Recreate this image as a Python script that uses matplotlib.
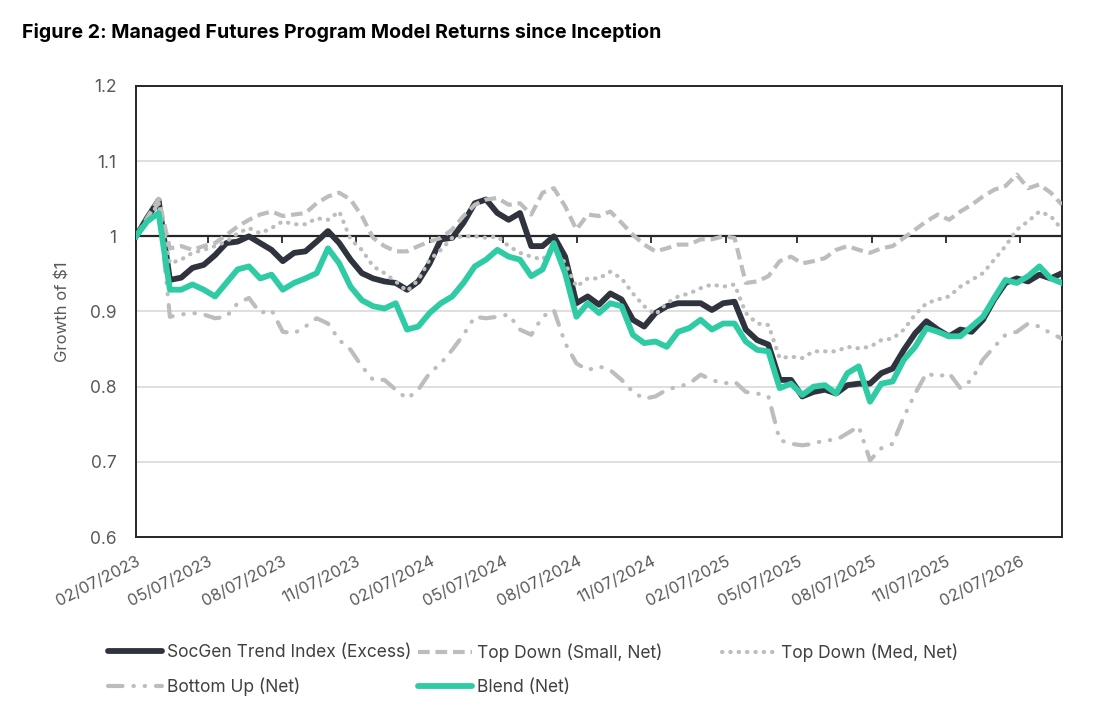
import numpy as np
import pandas as pd
import matplotlib
matplotlib.use("Agg")
import matplotlib.pyplot as plt
import matplotlib.dates as mdates
from matplotlib.lines import Line2D

plt.rcParams['font.family'] = ['Inter', 'DejaVu Sans']

# fortnightly readings of the growth of $1
dates = pd.date_range("2023-02-07", periods=83, freq="14D")

socgen = [1.000, 1.025, 1.048, 0.942, 0.945, 0.958, 0.962, 0.975, 0.991, 0.993,
          1.000, 0.991, 0.982, 0.967, 0.978, 0.980, 0.993, 1.007, 0.991, 0.969,
          0.951, 0.944, 0.940, 0.938, 0.929, 0.940, 0.964, 0.996, 0.998, 1.018,
          1.044, 1.049, 1.031, 1.022, 1.031, 0.987, 0.987, 1.000, 0.973, 0.911,
          0.920, 0.909, 0.924, 0.916, 0.889, 0.880, 0.898, 0.907, 0.911, 0.911,
          0.911, 0.902, 0.911, 0.913, 0.876, 0.862, 0.856, 0.809, 0.809, 0.787,
          0.793, 0.796, 0.791, 0.802, 0.804, 0.804, 0.818, 0.824, 0.849, 0.871,
          0.887, 0.876, 0.867, 0.876, 0.873, 0.889, 0.916, 0.938, 0.944, 0.940,
          0.949, 0.944, 0.951]

top_small = [1.000, 1.025, 1.050, 0.984, 0.987, 0.982, 0.987, 0.991, 1.002, 1.013,
             1.022, 1.029, 1.033, 1.027, 1.029, 1.031, 1.044, 1.053, 1.058, 1.049,
             1.027, 0.998, 0.987, 0.980, 0.980, 0.987, 0.993, 0.998, 1.009, 1.027,
             1.042, 1.049, 1.051, 1.042, 1.044, 1.029, 1.058, 1.064, 1.040, 1.009,
             1.029, 1.027, 1.033, 1.018, 1.002, 0.989, 0.980, 0.984, 0.989, 0.989,
             0.996, 0.996, 1.000, 0.998, 0.938, 0.940, 0.947, 0.967, 0.973, 0.964,
             0.967, 0.971, 0.982, 0.987, 0.982, 0.978, 0.984, 0.987, 0.998, 1.009,
             1.020, 1.029, 1.022, 1.033, 1.042, 1.053, 1.062, 1.067, 1.082, 1.064,
             1.069, 1.058, 1.042]

top_med = [1.000, 1.020, 1.045, 0.964, 0.969, 0.978, 0.982, 0.987, 0.993, 1.004,
           1.011, 1.004, 1.011, 1.020, 1.016, 1.016, 1.024, 1.022, 1.033, 0.996,
           0.982, 0.960, 0.951, 0.940, 0.927, 0.942, 0.969, 0.982, 0.998, 1.000,
           1.000, 0.998, 1.000, 0.987, 0.978, 0.973, 0.969, 0.987, 0.964, 0.933,
           0.944, 0.944, 0.953, 0.944, 0.924, 0.907, 0.896, 0.911, 0.920, 0.924,
           0.931, 0.936, 0.933, 0.936, 0.898, 0.884, 0.882, 0.838, 0.840, 0.838,
           0.847, 0.847, 0.847, 0.853, 0.851, 0.853, 0.862, 0.864, 0.876, 0.896,
           0.911, 0.916, 0.920, 0.933, 0.942, 0.951, 0.969, 0.987, 1.009, 1.020,
           1.033, 1.027, 1.009]

bottom_up = [1.000, 1.020, 1.045, 0.893, 0.896, 0.898, 0.896, 0.891, 0.893, 0.911,
             0.918, 0.898, 0.902, 0.873, 0.871, 0.880, 0.891, 0.884, 0.862, 0.849,
             0.827, 0.809, 0.809, 0.796, 0.784, 0.796, 0.818, 0.831, 0.849, 0.869,
             0.893, 0.891, 0.893, 0.896, 0.876, 0.869, 0.893, 0.902, 0.858, 0.831,
             0.822, 0.827, 0.822, 0.809, 0.793, 0.784, 0.787, 0.796, 0.800, 0.804,
             0.816, 0.809, 0.804, 0.807, 0.793, 0.791, 0.787, 0.729, 0.724, 0.722,
             0.724, 0.729, 0.729, 0.738, 0.747, 0.702, 0.718, 0.724, 0.760, 0.791,
             0.818, 0.813, 0.818, 0.798, 0.809, 0.836, 0.853, 0.869, 0.873, 0.884,
             0.880, 0.871, 0.864]

blend = [1.000, 1.020, 1.031, 0.929, 0.929, 0.936, 0.929, 0.920, 0.938, 0.956,
         0.960, 0.944, 0.949, 0.929, 0.938, 0.944, 0.951, 0.984, 0.964, 0.933,
         0.915, 0.907, 0.904, 0.911, 0.876, 0.880, 0.898, 0.911, 0.920, 0.938,
         0.960, 0.969, 0.982, 0.973, 0.969, 0.947, 0.956, 0.991, 0.951, 0.893,
         0.911, 0.898, 0.911, 0.907, 0.869, 0.858, 0.860, 0.853, 0.873, 0.878,
         0.889, 0.876, 0.884, 0.884, 0.860, 0.849, 0.847, 0.798, 0.804, 0.789,
         0.800, 0.802, 0.791, 0.818, 0.827, 0.780, 0.804, 0.807, 0.836, 0.853,
         0.878, 0.873, 0.867, 0.867, 0.880, 0.893, 0.918, 0.942, 0.938, 0.947,
         0.960, 0.944, 0.938]

tick_dates = pd.date_range("2023-02-07", "2026-02-07", freq=pd.DateOffset(months=3))
y_ticks = [0.6, 0.7, 0.8, 0.9, 1.0, 1.1, 1.2]
y_labels = ["0.6", "0.7", "0.8", "0.9", "1", "1.1", "1.2"]

dark = "#2e333d"
teal = "#2ecba5"
grey = "#bdbdbd"
label_grey = "#595959"
axis_col = "#262626"

x = mdates.date2num(dates)
xt = mdates.date2num(tick_dates)

fig = plt.figure(figsize=(11.1, 7.26), dpi=100)
ax = fig.add_axes([136/1110, 1-537/726, 926/1110, 451/726])

small_style = dict(color=grey, lw=3.0, dashes=(2.8, 1.4))
med_style = dict(color=grey, lw=3.0, dashes=(0.1, 1.9), dash_capstyle='round')
bottom_style = dict(color=grey, lw=3.0, dashes=(3.5, 2.6, 0.1, 2.6, 0.1, 2.6),
                    dash_capstyle='round')

ax.axhline(1.0, color=axis_col, lw=1.6, zorder=2)
ax.plot(x, socgen, color=dark, lw=4.2, solid_joinstyle='round', zorder=3)
ax.plot(x, top_small, zorder=4, **small_style)
ax.plot(x, top_med, zorder=4, **med_style)
ax.plot(x, bottom_up, zorder=4, **bottom_style)
ax.plot(x, blend, color=teal, lw=4.2, solid_joinstyle='round', zorder=5)

ax.set_xlim(x[0], x[-1])
ax.set_ylim(0.6, 1.2)
ax.set_yticks(y_ticks)
ax.set_yticklabels(y_labels)
ax.yaxis.grid(True, color="#d9d9d9", lw=1.2)
ax.set_axisbelow(True)
ax.tick_params(axis='y', length=0, pad=14, labelsize=12.5, labelcolor=label_grey)
ax.set_ylabel("Growth of $1", fontsize=12, color=label_grey, labelpad=14)

ax.set_xticks(xt)
ax.xaxis.set_major_formatter(mdates.DateFormatter("%m/%d/%Y"))
ax.tick_params(axis='x', length=0, pad=12, labelsize=11.8, labelcolor=label_grey,
               labelrotation=27)
for lab in ax.get_xticklabels():
    lab.set_ha('right')
    lab.set_va('top')
    lab.set_rotation_mode('anchor')

for s in ax.spines.values():
    s.set_color(axis_col)
    s.set_linewidth(1.4)

# tick marks of the category axis crossing at 1
sec = ax.secondary_xaxis((1.0 - 0.6) / 0.6)
sec.set_alignment('bottom')
sec.set_xticks(xt)
sec.xaxis.set_major_formatter(plt.NullFormatter())
sec.tick_params(axis='x', direction='out', length=5, width=1.3, color=axis_col)
sec.spines['bottom'].set_visible(False)

fig.text(22/1110, 1-32/726, "Figure 2: Managed Futures Program Model Returns since Inception",
         fontsize=14.1, fontweight='bold', va='center', ha='left')

styles = {
    "SocGen Trend Index (Excess)": dict(color=dark, lw=4.2, solid_capstyle='round'),
    "Top Down (Small, Net)": small_style,
    "Top Down (Med, Net)": med_style,
    "Bottom Up (Net)": bottom_style,
    "Blend (Net)": dict(color=teal, lw=4.2, solid_capstyle='round'),
}
columns = [(108, ["SocGen Trend Index (Excess)", "Bottom Up (Net)"]),
           (418, ["Top Down (Small, Net)", "Blend (Net)"]),
           (722, ["Top Down (Med, Net)"])]
for left, names in columns:
    handles = [Line2D([], [], **styles[n]) for n in names]
    leg = fig.legend(handles, names, loc='upper left',
                     bbox_to_anchor=(left/1110, 1-644/726), frameon=False,
                     borderpad=0, borderaxespad=0, handlelength=3.1,
                     handletextpad=0.3, labelspacing=0.97, fontsize=12.5)
    for t in leg.get_texts():
        t.set_color("#404040")

fig.savefig("out.png", dpi=100)
